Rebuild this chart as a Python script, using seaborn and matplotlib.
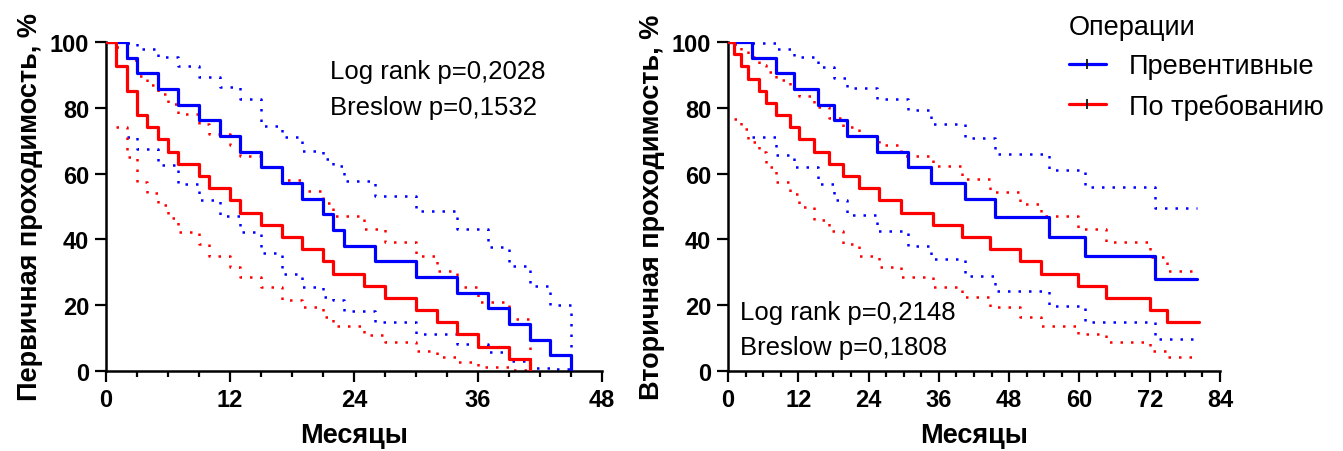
import matplotlib
matplotlib.use('Agg')
import matplotlib.pyplot as plt
import seaborn as sns
import pandas as pd
from matplotlib.ticker import MultipleLocator
from matplotlib.lines import Line2D

# ---- primary patency (left panel), months / % ----
prim_blue_t = [0, 2, 3, 5, 7, 9, 11, 13, 15, 17, 19, 21, 22, 23, 26, 30, 34, 37, 39, 41, 43, 45]
prim_blue_s = [100, 95.2, 90.5, 85.7, 81.0, 76.2, 71.4, 66.7, 61.9, 57.1, 52.4, 47.6, 42.9, 38.1,
               33.3, 28.6, 23.8, 19.0, 14.3, 9.5, 4.8, 0]
prim_blue_hi = [100, 99.7, 98.0, 95.4, 92.6, 89.4, 86.3, 82.7, 74.5, 71.0, 67.0, 64.5, 62.4, 57.8,
                53.3, 48.5, 43.2, 37.6, 32.0, 25.9, 20.1, 0]
prim_blue_lo = [100, 71.1, 67.5, 62.5, 56.9, 51.9, 47.2, 42.2, 36.0, 29.5, 25.4, 22.5, 21.5, 18.3,
                14.8, 11.2, 8.2, 5.7, 3.1, 0.9, 0.5, 0.5]

prim_red_t = [0, 1, 2, 3, 4, 5, 6, 7, 9, 10, 12, 13, 15, 17, 19, 21, 22, 25, 27, 30, 32, 34, 36, 39, 41]
prim_red_s = [100, 92.6, 85.2, 77.8, 74.1, 70.4, 66.7, 63.0, 59.3, 55.6, 51.9, 48.1, 44.4, 40.7,
              37.0, 33.3, 29.6, 25.9, 22.2, 18.5, 14.8, 11.1, 7.4, 3.7, 0]
prim_red_hi = [100, 98.5, 94.4, 89.6, 86.8, 84.1, 81.3, 78.2, 75.2, 72.1, 68.6, 65.5, 62.0, 58.1,
               54.8, 51.0, 47.2, 43.2, 39.1, 34.9, 30.5, 25.4, 20.9, 15.8, 0]
prim_red_lo = [100, 74.2, 65.0, 57.5, 54.0, 50.4, 46.5, 42.2, 38.6, 35.0, 31.5, 28.5, 25.4, 21.5,
               19.4, 16.5, 13.8, 10.8, 8.7, 6.0, 4.2, 2.7, 1.2, 0.3, 0]

# ---- secondary patency (right panel) ----
sec_blue_t = [0, 4.1, 8.2, 11.3, 15.3, 18.1, 20.3, 25.5, 30.7, 34.6, 40.5, 45.6, 54.8, 60.9, 72.9, 80]
sec_blue_s = [100, 95.2, 90.5, 85.7, 81.0, 76.2, 71.4, 66.7, 61.9, 57.1, 52.4, 46.7, 40.6, 35.0, 28.0, 28.0]
sec_blue_hi = [100, 99.7, 97.8, 95.4, 92.4, 89.0, 86.1, 82.8, 79.3, 75.1, 70.7, 66.0, 61.2, 55.8, 49.5, 49.5]
sec_blue_lo = [100, 71.1, 65.6, 62.0, 56.9, 51.9, 47.5, 42.7, 38.1, 34.0, 29.0, 24.4, 19.9, 15.0, 9.7, 9.7]

sec_red_t = [0, 1, 2.2, 3.4, 5.3, 6.5, 8.2, 10.5, 12.2, 14.6, 17.3, 19.6, 22.4, 25.7, 29.5, 35, 40,
             44.7, 49.8, 53.5, 59.8, 64.6, 72, 75, 80.5]
sec_red_s = [100, 96.3, 92.6, 88.9, 85.2, 81.5, 77.8, 74.1, 70.4, 66.7, 63.0, 59.3, 55.6, 51.9, 48.1,
             44.4, 40.7, 37.0, 33.3, 29.6, 25.9, 22.2, 18.5, 14.8, 14.8]
sec_red_hi = [100, 99.3, 97.5, 95.5, 93.0, 91.0, 88.5, 85.8, 83.5, 80.2, 77.0, 74.2, 71.5, 68.6, 65.3,
              62.2, 58.3, 54.5, 50.8, 47.2, 43.2, 39.1, 34.6, 30.5, 30.5]
sec_red_lo = [100, 76.7, 73.5, 69.6, 66.6, 62.0, 57.4, 53.8, 49.8, 45.8, 42.6, 38.6, 35.0, 31.5, 28.5,
              25.4, 22.5, 19.4, 16.3, 13.8, 11.2, 8.7, 6.2, 4.2, 4.2]

groups = ['Превентивные', 'По требованию']
colors = {'Превентивные': '#0000FF', 'По требованию': '#FF0000'}

sns.set_style('ticks')
plt.rcParams['font.family'] = ['Liberation Sans', 'DejaVu Sans']
plt.rcParams.update({'text.color': 'black', 'axes.labelcolor': 'black',
                     'xtick.color': 'black', 'ytick.color': 'black'})

fig = plt.figure(figsize=(13.43, 4.52), dpi=100)
ax1 = fig.add_axes([106 / 1343, 1 - 372 / 452, 496 / 1343, 329 / 452])
ax2 = fig.add_axes([728 / 1343, 1 - 372 / 452, 492 / 1343, 329 / 452])


def draw_km(ax, t, s, hi, lo, color):
    # estimate
    sns.lineplot(x=t, y=s, ax=ax, color=color, lw=2.3, drawstyle='steps-post',
                 estimator=None, sort=False, errorbar=None, zorder=3)
    # confidence limits start at the first event
    for band in (hi, lo):
        sns.lineplot(x=t[1:], y=band[1:], ax=ax, color=color, lw=1.8, drawstyle='steps-post',
                     estimator=None, sort=False, errorbar=None, zorder=2,
                     linestyle=(0, (1, 3.2)))


draw_km(ax1, prim_blue_t, prim_blue_s, prim_blue_hi, prim_blue_lo, colors['Превентивные'])
draw_km(ax1, prim_red_t, prim_red_s, prim_red_hi, prim_red_lo, colors['По требованию'])
draw_km(ax2, sec_blue_t, sec_blue_s, sec_blue_hi, sec_blue_lo, colors['Превентивные'])
draw_km(ax2, sec_red_t, sec_red_s, sec_red_hi, sec_red_lo, colors['По требованию'])

for ax, xmax, ylab in [(ax1, 48, 'Первичная проходимость, %'), (ax2, 84, 'Вторичная проходимость, %')]:
    ax.set_xlim(0, xmax)
    ax.set_ylim(0, 100)
    ax.xaxis.set_major_locator(MultipleLocator(12))
    ax.xaxis.set_minor_locator(MultipleLocator(3))
    ax.yaxis.set_major_locator(MultipleLocator(20))
    ax.tick_params(which='major', length=8, width=1.6, labelsize=17, direction='out', pad=4)
    ax.tick_params(which='minor', length=4, width=1.6, direction='out')
    for lab in ax.get_xticklabels() + ax.get_yticklabels():
        lab.set_fontweight('bold')
    sns.despine(ax=ax)
    for sp in ('left', 'bottom'):
        ax.spines[sp].set_linewidth(1.8)
        ax.spines[sp].set_color('black')
    ax.set_xlabel('Месяцы', fontsize=19.5, fontweight='bold', labelpad=8)
    ax.set_ylabel(ylab, fontsize=19.5, fontweight='bold', labelpad=5)
    ax.margins(0)

ax1.text(21.7, 91.2, 'Log rank p=0,2028', fontsize=18.5, va='center', ha='left')
ax1.text(21.7, 80.2, 'Breslow p=0,1532', fontsize=18.5, va='center', ha='left')
ax2.text(2.0, 17.9, 'Log rank p=0,2148', fontsize=18.5, va='center', ha='left')
ax2.text(2.0, 7.3, 'Breslow p=0,1808', fontsize=18.5, va='center', ha='left')

handles = [Line2D([], [], color=colors[g], lw=2.3, marker='|', markersize=7,
                  markeredgecolor='black', markeredgewidth=1.2) for g in groups]
leg = fig.legend(handles, groups, title='Операции', loc='upper left',
                 bbox_to_anchor=(1050 / 1343, 1 + 4 / 452), frameon=False, fontsize=19.5,
                 title_fontsize=19.5, handlelength=1.35, handletextpad=0.85, labelspacing=0.5,
                 alignment='left', borderaxespad=0.3)

fig.savefig('out.png', dpi=100)
